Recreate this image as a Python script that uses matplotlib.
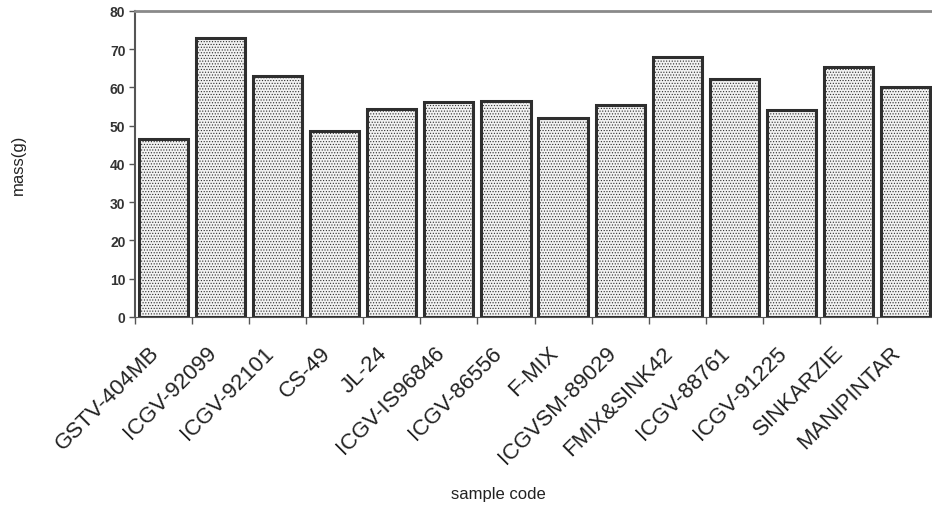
import matplotlib
matplotlib.use("Agg")
import matplotlib.pyplot as plt
import matplotlib.transforms as mtransforms
import numpy as np

plt.rcParams['font.family'] = ['Liberation Sans', 'DejaVu Sans']
plt.rcParams['hatch.color'] = '#a8a8a8'
plt.rcParams['hatch.linewidth'] = 0.5

categories = ["GSTV-404MB", "ICGV-92099", "ICGV-92101", "CS-49", "JL-24",
              "ICGV-IS96846", "ICGV-86556", "F-MIX", "ICGVSM-89029",
              "FMIX&SINK42", "ICGV-88761", "ICGV-91225", "SINKARZIE", "MANIPINTAR"]
mass = [46.5, 72.9, 63.0, 48.7, 54.4, 56.2, 56.5, 52.0, 55.4, 68.0, 62.3, 54.2, 65.4, 60.1]
yticks = [0, 10, 20, 30, 40, 50, 60, 70, 80]

fig = plt.figure(figsize=(9.32, 5.10), dpi=100)
ax = fig.add_axes([0.145, 0.3765, 0.857, 0.600])

x = np.arange(len(categories))
ax.bar(x, mass, width=0.86, facecolor='#f2f2f2', edgecolor='#2e2e2e',
       linewidth=2.2, hatch='......')

ax.set_xlim(-0.5, len(categories) - 0.5)
ax.set_ylim(0, 80)
ax.set_yticks(yticks)
ax.tick_params(axis='y', labelsize=10, length=4, pad=3, color='#555555', width=1)
for lbl in ax.get_yticklabels():
    lbl.set_fontweight('bold')
    lbl.set_color('#333333')

ax.set_xticks(np.arange(len(categories) + 1) - 0.5, minor=False)
ax.set_xticklabels([])
ax.tick_params(axis='x', length=5, color='#555555', width=1)
ax.set_xticks(x, minor=True)
ax.set_xticklabels(categories, minor=True, rotation=45, ha='right',
                   rotation_mode='anchor', fontsize=16, color='#222222')
ax.tick_params(axis='x', which='minor', length=0, pad=10)
offset = mtransforms.ScaledTranslation(-15 / 100, -11 / 100, fig.dpi_scale_trans)
for lbl in ax.get_xticklabels(minor=True):
    lbl.set_transform(lbl.get_transform() + offset)

ax.spines['right'].set_visible(False)
ax.spines['top'].set_color('#8a8a8a')
ax.spines['top'].set_linewidth(2)
ax.spines['left'].set_color('#555555')
ax.spines['left'].set_linewidth(1.5)
ax.spines['bottom'].set_color('#555555')

fig.text(0.02, 0.6765, 'mass(g)', ha='center', va='center', rotation=90,
         fontsize=12, color='#222222')
fig.text(0.535, 0.03, 'sample code', ha='center', va='center', fontsize=12,
         color='#222222')

fig.savefig('out.png', dpi=100)
